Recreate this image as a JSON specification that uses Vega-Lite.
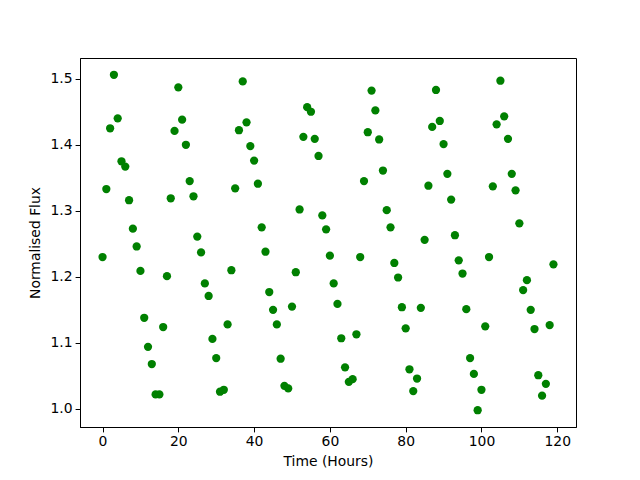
{
  "$schema": "https://vega.github.io/schema/vega-lite/v6.json",
  "width": 496,
  "height": 369,
  "autosize": {"type": "none"},
  "padding": {"left": 80, "top": 58, "right": 64, "bottom": 53},
  "background": "white",
  "config": {
    "view": {"stroke": "black", "strokeWidth": 1},
    "font": "DejaVu Sans",
    "axis": {
      "grid": false,
      "domainColor": "black",
      "tickColor": "black",
      "tickSize": 4.9,
      "labelColor": "black",
      "titleColor": "black",
      "labelFont": "DejaVu Sans",
      "titleFont": "DejaVu Sans",
      "labelFontSize": 13.9,
      "titleFontSize": 13.9,
      "titleFontWeight": "normal",
      "labelPadding": 3,
      "labelFlush": false,
      "labelOverlap": false
    }
  },
  "data": {
    "values": [
      {"t":0,"f":1.23},{"t":1,"f":1.333},{"t":2,"f":1.425},{"t":3,"f":1.506},{"t":4,"f":1.44},
      {"t":5,"f":1.375},{"t":6,"f":1.367},{"t":7,"f":1.316},{"t":8,"f":1.273},{"t":9,"f":1.246},
      {"t":10,"f":1.209},{"t":11,"f":1.138},{"t":12,"f":1.094},{"t":13,"f":1.068},{"t":14,"f":1.022},
      {"t":15,"f":1.022},{"t":16,"f":1.124},{"t":17,"f":1.201},{"t":18,"f":1.319},{"t":19,"f":1.421},
      {"t":20,"f":1.487},{"t":21,"f":1.438},{"t":22,"f":1.4},{"t":23,"f":1.345},{"t":24,"f":1.322},
      {"t":25,"f":1.261},{"t":26,"f":1.237},{"t":27,"f":1.19},{"t":28,"f":1.171},{"t":29,"f":1.106},
      {"t":30,"f":1.077},{"t":31,"f":1.026},{"t":32,"f":1.029},{"t":33,"f":1.128},{"t":34,"f":1.21},
      {"t":35,"f":1.334},{"t":36,"f":1.422},{"t":37,"f":1.496},{"t":38,"f":1.434},{"t":39,"f":1.398},
      {"t":40,"f":1.376},{"t":41,"f":1.341},{"t":42,"f":1.275},{"t":43,"f":1.238},{"t":44,"f":1.177},
      {"t":45,"f":1.15},{"t":46,"f":1.128},{"t":47,"f":1.076},{"t":48,"f":1.035},{"t":49,"f":1.031},
      {"t":50,"f":1.155},{"t":51,"f":1.207},{"t":52,"f":1.302},{"t":53,"f":1.412},{"t":54,"f":1.457},
      {"t":55,"f":1.45},{"t":56,"f":1.409},{"t":57,"f":1.383},{"t":58,"f":1.293},{"t":59,"f":1.272},
      {"t":60,"f":1.232},{"t":61,"f":1.19},{"t":62,"f":1.159},{"t":63,"f":1.107},{"t":64,"f":1.063},
      {"t":65,"f":1.041},{"t":66,"f":1.045},{"t":67,"f":1.113},{"t":68,"f":1.23},{"t":69,"f":1.345},
      {"t":70,"f":1.419},{"t":71,"f":1.482},{"t":72,"f":1.452},{"t":73,"f":1.408},{"t":74,"f":1.361},
      {"t":75,"f":1.301},{"t":76,"f":1.275},{"t":77,"f":1.221},{"t":78,"f":1.199},{"t":79,"f":1.154},
      {"t":80,"f":1.122},{"t":81,"f":1.06},{"t":82,"f":1.027},{"t":83,"f":1.046},{"t":84,"f":1.153},
      {"t":85,"f":1.256},{"t":86,"f":1.338},{"t":87,"f":1.427},{"t":88,"f":1.483},{"t":89,"f":1.436},
      {"t":90,"f":1.401},{"t":91,"f":1.356},{"t":92,"f":1.317},{"t":93,"f":1.263},{"t":94,"f":1.225},
      {"t":95,"f":1.205},{"t":96,"f":1.151},{"t":97,"f":1.077},{"t":98,"f":1.053},{"t":99,"f":0.998},
      {"t":100,"f":1.029},{"t":101,"f":1.125},{"t":102,"f":1.23},{"t":103,"f":1.337},{"t":104,"f":1.431},
      {"t":105,"f":1.497},{"t":106,"f":1.443},{"t":107,"f":1.409},{"t":108,"f":1.356},{"t":109,"f":1.331},
      {"t":110,"f":1.281},{"t":111,"f":1.18},{"t":112,"f":1.195},{"t":113,"f":1.15},{"t":114,"f":1.121},
      {"t":115,"f":1.051},{"t":116,"f":1.02},{"t":117,"f":1.038},{"t":118,"f":1.127},{"t":119,"f":1.219}
    ]
  },
  "mark": {"type": "point", "filled": true, "shape": "circle", "size": 68, "color": "#008000", "opacity": 1},
  "encoding": {
    "x": {
      "field": "t", "type": "quantitative",
      "scale": {"domain": [-5.95, 124.95], "nice": false, "zero": false},
      "axis": {"values": [0, 20, 40, 60, 80, 100, 120], "title": "Time (Hours)", "titlePadding": 6}
    },
    "y": {
      "field": "f", "type": "quantitative",
      "scale": {"domain": [0.9726, 1.5314], "nice": false, "zero": false},
      "axis": {"values": [1.0, 1.1, 1.2, 1.3, 1.4, 1.5], "format": ".1f", "title": "Normalised Flux", "titlePadding": 8}
    }
  }
}
